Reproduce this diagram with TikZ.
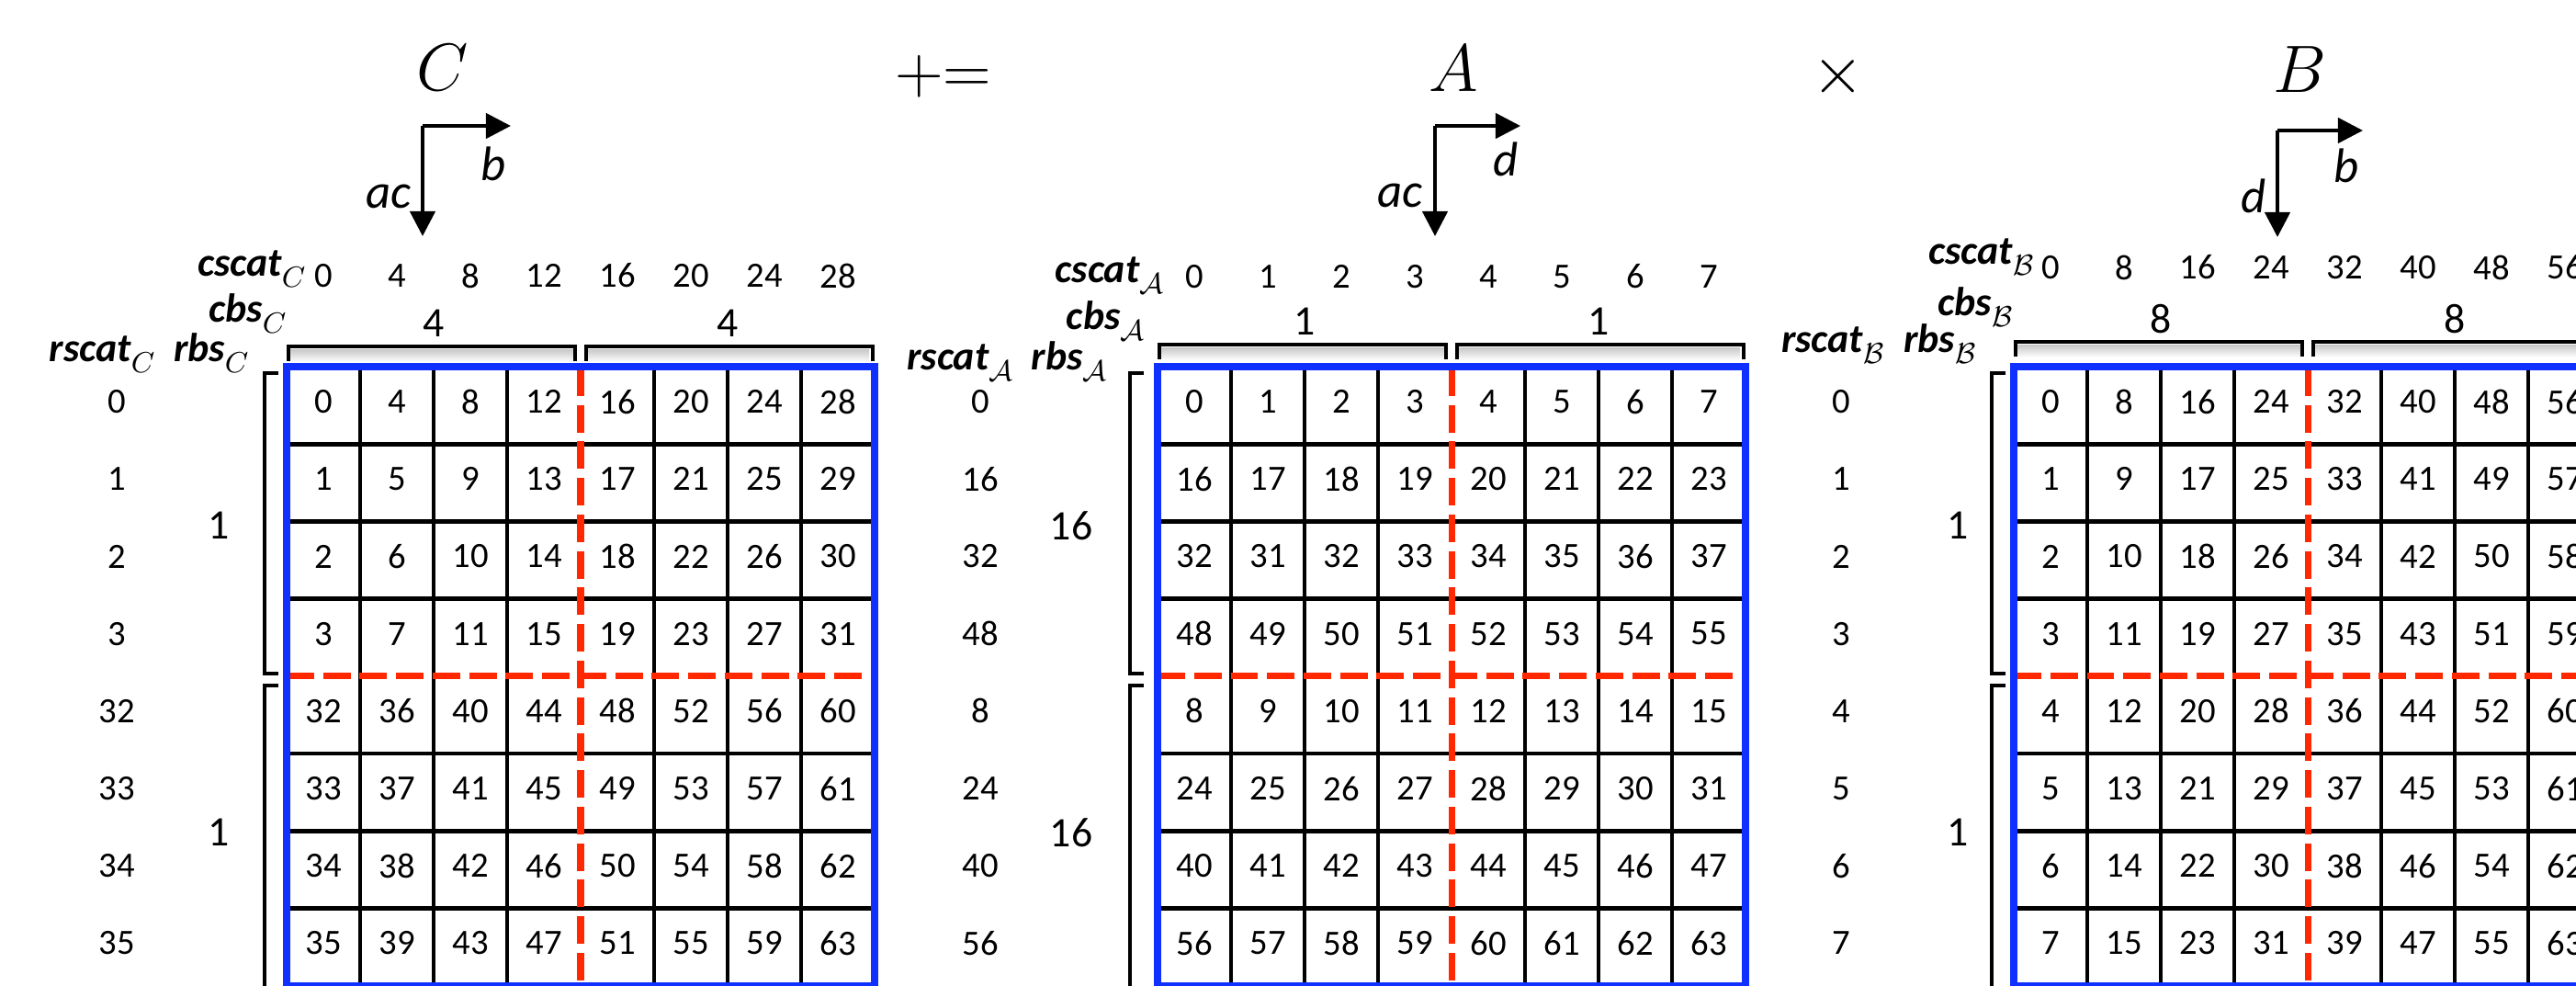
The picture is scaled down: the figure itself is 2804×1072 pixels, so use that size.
\documentclass[tikz,border=0pt]{standalone}
\usepackage{fontspec}
\setmainfont{Carlito}
\usetikzlibrary{arrows.meta}
\definecolor{gblue}{RGB}{16,48,255}
\definecolor{gred}{RGB}{255,40,0}
\tikzset{
  cell/.style={font=\fontsize{11}{12}\selectfont, inner sep=0pt},
  bsnum/.style={font=\fontsize{13}{14}\selectfont, inner sep=0pt},
  lab/.style={font=\fontsize{12.5}{14}\selectfont\bfseries\itshape, inner sep=0pt},
  gridline/.style={line width=1.3pt, black},
  blueframe/.style={line width=2.3pt, gblue},
  reddash/.style={line width=2pt, gred, dash pattern=on 8.5pt off 2.8pt},
  bracketline/.style={line width=1.3pt, black},
  axarrow/.style={line width=1.2pt, -{Triangle[length=7.7pt,width=7.7pt]}},
  axlab/.style={font=\fontsize{15}{18}\selectfont\itshape, inner sep=0pt},
  bigtitle/.style={font=\fontsize{22}{26}\selectfont, inner sep=0pt},
}
\newcommand\slab[2]{#1\raisebox{-0.6ex}{\fontsize{9}{10}\selectfont\mdseries\upshape$#2$}}
\newcommand\mygrid[1]{%
  \foreach \k in {1,2,3,5,6,7} {\draw[gridline] ({#1+80*\k},399) -- ({#1+80*\k},1072.6);}
  \foreach \k in {1,2,3,5,6,7} {\draw[gridline] (#1,{399+84.2*\k}) -- ({#1+640},{399+84.2*\k});}
  \draw[reddash] ({#1+320},401) -- ({#1+320},1072.6);
  \draw[reddash] (#1,{399+84.2*4}) -- ({#1+640},{399+84.2*4});
  \draw[blueframe] (#1,399) rectangle ({#1+640},1072.6);
}
\newcommand\topbrackets[3]{% left x of grid, y of bracket line, right end of 2nd
  \shade[top color=black!22, bottom color=white] ({#1+4},{#2+3}) rectangle ({#1+314},{#2+17});
  \shade[top color=black!22, bottom color=white] ({#1+328},{#2+3}) rectangle ({#1+#3-4},{#2+17});
  \draw[bracketline] ({#1+2},{#2+16}) -- ({#1+2},#2) -- ({#1+314},#2) -- ({#1+314},{#2+16});
  \draw[bracketline] ({#1+326},{#2+16}) -- ({#1+326},#2) -- ({#1+#3},#2) -- ({#1+#3},{#2+16});
}
\newcommand\leftbrackets[1]{% x of bracket
  \draw[bracketline] ({#1+15},406) -- (#1,406) -- (#1,733) -- ({#1+15},733);
  \draw[bracketline] ({#1+15},746) -- (#1,746) -- (#1,1090);
}
\begin{document}
\begin{tikzpicture}[x=0.01cm,y=-0.01cm]
\useasboundingbox (0,0) rectangle (2804,1072);
\clip (0,0) rectangle (2804,1072);

% ---------- titles ----------
\node[bigtitle] (tC) at (482,74) {$C$};
\node[bigtitle,font=\fontsize{20}{24}\selectfont] (tpe) at (1027,83) {$\mathord{+}\mathord{=}$};
\node[bigtitle] (tA) at (1582,75) {$A$};
\node[bigtitle] (tx) at (2001,83) {$\times$};
\node[bigtitle] (tB) at (2503,76) {$B$};

% ---------- axis arrows ----------
\coordinate (Co) at (460,137); \coordinate (Cr) at (556,137); \coordinate (Cd) at (460,257);
\draw[axarrow] (Co) -- (Cr); \draw[axarrow] (Co) -- (Cd);
\node[axlab] (Cb) at (537,178) {b};
\node[axlab] (Cac) at (423,214) {ac};
\coordinate (Ao) at (1562,137); \coordinate (Ar) at (1655,137); \coordinate (Ad) at (1562,257);
\draw[axarrow] (Ao) -- (Ar); \draw[axarrow] (Ao) -- (Ad);
\node[axlab] (Adl) at (1639,173) {d};
\node[axlab] (Aac) at (1524,213) {ac};
\coordinate (Bo) at (2479,142); \coordinate (Br) at (2572,142); \coordinate (Bd) at (2479,258);
\draw[axarrow] (Bo) -- (Br); \draw[axarrow] (Bo) -- (Bd);
\node[axlab] (Bb) at (2554,180) {b};
\node[axlab] (Bdl) at (2453,213) {d};

% ---------- matrix C ----------
\topbrackets{312}{377}{638}
\leftbrackets{288}
\mygrid{312}
\foreach \i in {0,...,7}{\foreach \j in {0,...,7}{
  \pgfmathtruncatemacro\v{mod(\i,4)+4*\j+32*int(\i/4)}
  \node[cell] (C\i\j) at ({352+80*\j},{437.1+84.2*\i}) {\v};}}
\foreach \i/\t in {0/0,1/1,2/2,3/3,4/32,5/33,6/34,7/35}
  \node[cell] (Cr\i) at (127,{437.1+84.2*\i}) {\t};
\foreach \j in {0,...,7}{
  \pgfmathtruncatemacro\v{4*\j}
  \node[cell] (Cc\j) at ({352+80*\j},300) {\v};}
\node[bsnum] (Cbs1) at (472,352) {4};
\node[bsnum] (Cbs2) at (792,352) {4};
\node[bsnum] (Crb1) at (238,572) {1};
\node[bsnum] (Crb2) at (238,906) {1};
\node[lab, anchor=base east] (cscatC) at (333,300) {\slab{cscat}{C}};
\node[lab, anchor=base east] (cbsC) at (312,350) {\slab{cbs}{C}};
\node[lab, anchor=base east] (rscatC) at (169,393) {\slab{rscat}{C}};
\node[lab, anchor=base east] (rbsC) at (271,393) {\slab{rbs}{C}};

% ---------- matrix A ----------
\topbrackets{1260}{375}{638}
\leftbrackets{1230}
\mygrid{1260}
\foreach \i/\s in {0/0,1/16,2/32,3/48,4/8,5/24,6/40,7/56}{\foreach \j in {0,...,7}{
  \pgfmathtruncatemacro\v{(\i==2 && \j>0) ? 30+\j : \s+\j}
  \node[cell] (A\i\j) at ({1300+80*\j},{437.1+84.2*\i}) {\v};}}
\foreach \i/\t in {0/0,1/16,2/32,3/48,4/8,5/24,6/40,7/56}
  \node[cell] (Ar\i) at (1067,{437.1+84.2*\i}) {\t};
\foreach \j in {0,...,7}
  \node[cell] (Ac\j) at ({1300+80*\j},301) {\j};
\node[bsnum] (Abs1) at (1420,350) {1};
\node[bsnum] (Abs2) at (1740,350) {1};
\node[bsnum] (Arb1) at (1166,572) {16};
\node[bsnum] (Arb2) at (1166,906) {16};
\node[lab, anchor=base east] (cscatA) at (1267,307) {\slab{cscat}{\mathcal{A}}};
\node[lab, anchor=base east] (cbsA) at (1246,358) {\slab{cbs}{\mathcal{A}}};
\node[lab, anchor=base east] (rscatA) at (1103,402) {\slab{rscat}{\mathcal{A}}};
\node[lab, anchor=base east] (rbsA) at (1205,402) {\slab{rbs}{\mathcal{A}}};

% ---------- matrix B ----------
\topbrackets{2192}{372}{640}
\leftbrackets{2168}
\mygrid{2192}
\foreach \i in {0,...,7}{\foreach \j in {0,...,7}{
  \pgfmathtruncatemacro\v{\i+8*\j}
  \node[cell] (B\i\j) at ({2232+80*\j},{437.1+84.2*\i}) {\v};}}
\foreach \i in {0,...,7}
  \node[cell] (Br\i) at (2004,{437.1+84.2*\i}) {\i};
\foreach \j in {0,...,7}{
  \pgfmathtruncatemacro\v{8*\j}
  \node[cell] (Bc\j) at ({2232+80*\j},291) {\v};}
\node[bsnum] (Bbs1) at (2352,347) {8};
\node[bsnum] (Bbs2) at (2672,347) {8};
\node[bsnum] (Brb1) at (2131,572) {1};
\node[bsnum] (Brb2) at (2131,906) {1};
\node[lab, anchor=base east] (cscatB) at (2214,287) {\slab{cscat}{\mathcal{B}}};
\node[lab, anchor=base east] (cbsB) at (2191,343) {\slab{cbs}{\mathcal{B}}};
\node[lab, anchor=base east] (rscatB) at (2051,383) {\slab{rscat}{\mathcal{B}}};
\node[lab, anchor=base east] (rbsB) at (2151,383) {\slab{rbs}{\mathcal{B}}};
\end{tikzpicture}
\end{document}
